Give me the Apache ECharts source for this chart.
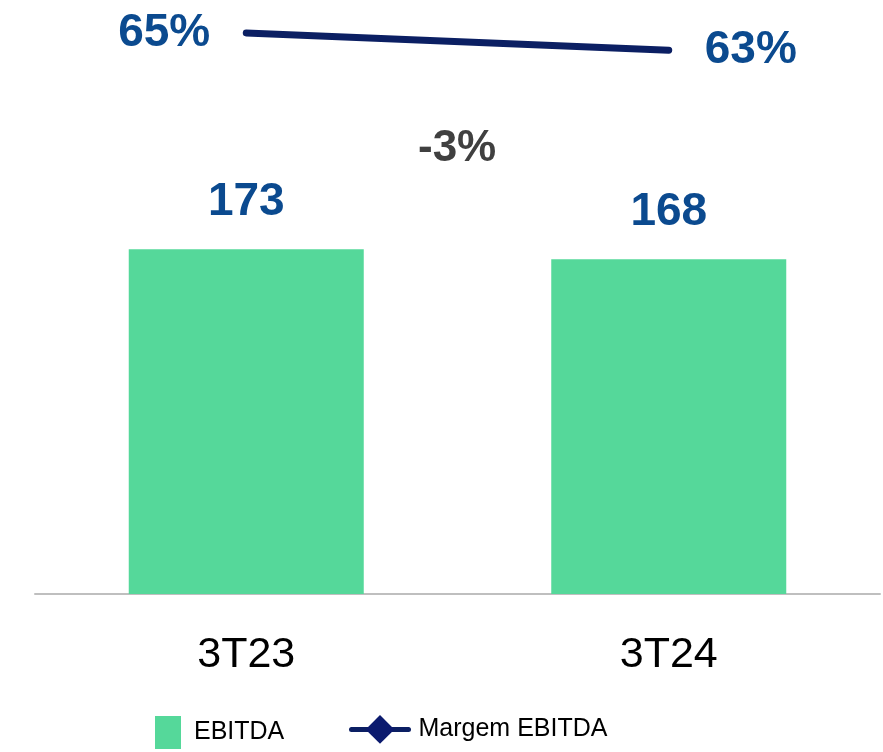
<!DOCTYPE html>
<html>
<head>
<meta charset="utf-8">
<script src="https://cdn.jsdelivr.net/npm/echarts@6/dist/echarts.min.js"></script>
<style>
  html, body { margin: 0; padding: 0; background: #fff; }
  #chart { width: 883px; height: 752px; }
</style>
</head>
<body>
<div id="chart"></div>
<script>
const categories = ["3T23", "3T24"];
const ebitda = [173, 168];
const margem = [65, 63];

const variacao = Math.round((ebitda[1] - ebitda[0]) / ebitda[0] * 100);

const myChart = echarts.init(document.getElementById("chart"));
const option = {
  animation: false,
  grid: { left: 35, right: 3, top: 20, bottom: 158 },
  xAxis: {
    type: "category",
    data: categories,
    axisLine: { lineStyle: { color: "#bfbfbf", width: 2 } },
    axisTick: { show: false },
    axisLabel: {
      color: "#000",
      fontSize: 43,
      fontFamily: "Liberation Sans, Arial",
      margin: 40,
    },
  },
  yAxis: [
    { type: "value", min: 0, max: 288, show: false },
    { type: "value", min: 0, max: 66.5, show: false },
  ],
  legend: [
    {
      data: ["EBITDA"],
      left: 150,
      top: 711,
      itemWidth: 26,
      itemHeight: 33,
      icon: "rect",
      textStyle: { fontSize: 25, color: "#000", fontFamily: "Liberation Sans, Arial", padding: [0, 0, 0, 8] },
    },
    {
      data: ["Margem EBITDA"],
      left: 344,
      top: 710,
      itemWidth: 57,
      itemHeight: 36,
      lineStyle: { width: 5, cap: "round" },
      textStyle: { fontSize: 25, color: "#000", fontFamily: "Liberation Sans, Arial", padding: [0, 0, 0, 5] },
    },
  ],
  graphic: [
    {
      type: "text",
      left: 418,
      top: 127,
      style: {
        text: variacao + "%",
        fill: "#404040",
        font: "bold 44px Liberation Sans, Arial",
      },
    },
  ],
  series: [
    {
      name: "EBITDA",
      type: "bar",
      data: ebitda,
      barWidth: 235,
      itemStyle: { color: "#55d89a" },
      label: {
        show: true,
        position: "top",
        distance: 24,
        color: "#0b4a8f",
        fontSize: 46,
        fontWeight: "bold",
        fontFamily: "Liberation Sans, Arial",
      },
    },
    {
      name: "Margem EBITDA",
      type: "line",
      yAxisIndex: 1,
      data: margem,
      symbol: "diamond",
      symbolSize: 24,
      showSymbol: true,
      lineStyle: { color: "#0b1f63", width: 7, cap: "round" },
      itemStyle: { color: "#0b1a6e" },
      label: {
        show: true,
        formatter: "{c}%",
        color: "#0b4a8f",
        fontSize: 46,
        fontWeight: "bold",
        fontFamily: "Liberation Sans, Arial",
      },
    },
  ],
};
// rótulos da margem: primeiro à esquerda, segundo à direita; pontos sem símbolo
option.series[1].data = margem.map(function (v, i) {
  return {
    value: v,
    symbolSize: 0,
    label: { position: i === 0 ? "left" : "right", distance: 36 },
  };
});
myChart.setOption(option);
</script>
</body>
</html>
